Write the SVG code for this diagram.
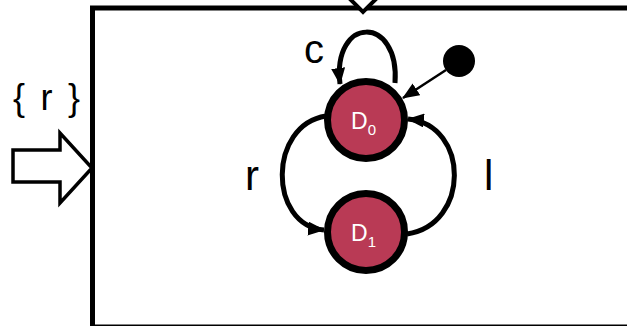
<svg xmlns="http://www.w3.org/2000/svg" width="627" height="326" viewBox="0 0 627 326">
<style>
.lbl{font-family:"Liberation Sans","Noto Sans",sans-serif;fill:#000}
.st{fill:#b93a55;stroke:#000;stroke-width:7}
.stt{font-family:"Liberation Sans","Noto Sans",sans-serif;fill:#fff}
.edge{fill:none;stroke:#000;stroke-width:5}
</style>
<defs>
<marker id="ah" markerUnits="userSpaceOnUse" markerWidth="17" markerHeight="14" viewBox="0 0 17 14" refX="16" refY="7" orient="auto">
<path d="M0,0 L17,7 L0,14 z" fill="#000"/>
</marker>
</defs>
<rect x="0" y="0" width="627" height="326" fill="#fff"/>
<g id="container">
<rect x="92.5" y="8" width="560" height="319" fill="none" stroke="#000" stroke-width="5"/>
<polygon points="363,-12 375,0 363,12 351,0" fill="#fff" stroke="#000" stroke-width="4"/>
</g>
<g id="input">
<text class="lbl" x="13" y="110" font-size="36" textLength="67" lengthAdjust="spacing">{ r }</text>
<polygon points="13,150 60,150 60,133 92,168 60,203 60,182 13,182" fill="#fff" stroke="#000" stroke-width="3.5" stroke-linejoin="miter"/>
</g>
<g id="connectors">
<path class="edge" d="M395 83 C400 15, 332 15, 340 84" marker-end="url(#ah)"/>
<line x1="446" y1="70" x2="403" y2="98" stroke="#000" stroke-width="2.5" marker-end="url(#ah)"/>
<path class="edge" d="M326 116 C268 125, 268 225, 324 230" marker-end="url(#ah)"/>
<path class="edge" d="M407 234 C470 225, 470 125, 408 119" marker-end="url(#ah)"/>
<text class="lbl" x="304" y="63" font-size="40">c</text>
<text class="lbl" x="245" y="190" font-size="42">r</text>
<text class="lbl" x="484" y="190" font-size="42">l</text>
</g>
<g id="init">
<circle cx="459" cy="61" r="16" fill="#000"/>
</g>
<g id="D0">
<circle class="st" cx="366" cy="120" r="38.5"/>
<text class="stt" x="351" y="129" font-size="23">D<tspan font-size="15" dy="6">0</tspan></text>
</g>
<g id="D1">
<circle class="st" cx="366" cy="232" r="38.5"/>
<text class="stt" x="351" y="241" font-size="23">D<tspan font-size="15" dy="6">1</tspan></text>
</g>
</svg>
